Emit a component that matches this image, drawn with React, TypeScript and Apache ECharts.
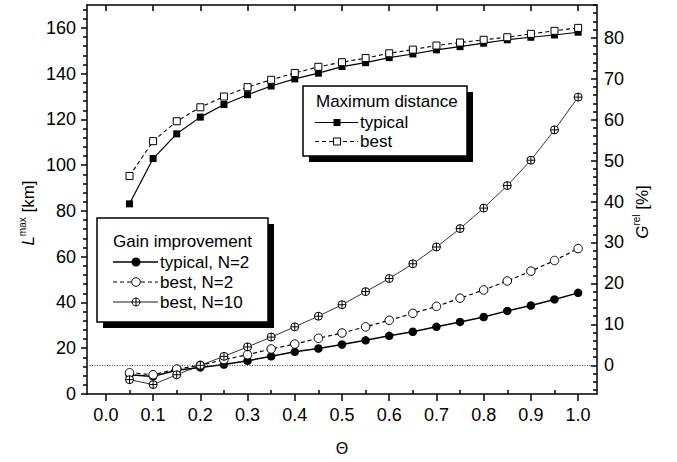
import React, { useEffect, useRef } from 'react';
import * as echarts from 'echarts';

const FONT = "'Liberation Sans', Arial, Helvetica, sans-serif";

// Theta values (x)
const thetas = [0.05, 0.1, 0.15, 0.2, 0.25, 0.3, 0.35, 0.4, 0.45, 0.5, 0.55, 0.6, 0.65, 0.7, 0.75, 0.8, 0.85, 0.9, 0.95, 1.0];

// Maximum distance L^max [km] (left axis)
const maxTypical = [83.1, 102.9, 113.7, 121.0, 126.5, 130.8, 134.6, 137.7, 140.2, 143.1, 144.8, 147.0, 148.6, 150.4, 151.8, 153.3, 154.8, 155.9, 156.9, 158.1];
const maxBest = [95.3, 110.5, 119.2, 125.3, 130.0, 134.1, 137.3, 140.3, 143.0, 145.0, 146.8, 148.9, 150.5, 152.3, 153.6, 154.8, 155.9, 157.4, 158.7, 160.0];

// Gain improvement G^rel [%] (right axis)
const gainTypicalN2 = [-2.3, -2.7, -1.2, -0.5, 0.2, 1.1, 2.2, 3.3, 4.1, 5.1, 6.1, 7.2, 8.2, 9.4, 10.6, 11.8, 13.3, 14.6, 16.1, 17.7];
const gainBestN2 = [-1.8, -2.3, -0.9, 0.0, 1.4, 2.6, 4.0, 5.2, 6.6, 7.9, 9.4, 11.0, 12.7, 14.4, 16.4, 18.4, 20.6, 23.0, 25.6, 28.5];
const gainBestN10 = [-3.5, -4.7, -2.3, 0.0, 2.2, 4.5, 6.9, 9.4, 12.0, 14.8, 18.0, 21.2, 24.8, 28.9, 33.4, 38.4, 43.9, 50.1, 57.5, 65.5];

// Tick labels
const xTicks = [0, 0.1, 0.2, 0.3, 0.4, 0.5, 0.6, 0.7, 0.8, 0.9, 1.0];
const xMinorTicks = [0.05, 0.15, 0.25, 0.35, 0.45, 0.55, 0.65, 0.75, 0.85, 0.95];
const leftTicks = [0, 20, 40, 60, 80, 100, 120, 140, 160];
const rightTicks = [0, 10, 20, 30, 40, 50, 60, 70, 80];

const leftMinor: number[] = [];
for (let v = 4; v <= 168; v += 4) if (v % 20 !== 0) leftMinor.push(v);
const rightMinor: number[] = [];
for (let v = -6; v <= 88; v += 2) if (v % 10 !== 0) rightMinor.push(v);

const CROSS_CIRCLE = 'path://M10,0 A10,10 0 1,1 10,20 A10,10 0 1,1 10,0 Z M10,0 L10,20 M0,10 L20,10';

const BLACK = '#000';
const AX_LINE = { color: BLACK, width: 1.5 };

function pairs(ys: number[]) {
  return thetas.map((t, i) => [t, ys[i]]);
}

function legendBox(x: number, y: number, w: number, h: number) {
  return [
    { type: 'rect', z: 100, shape: { x: x + 6, y: y + 6, width: w, height: h }, style: { fill: BLACK } },
    { type: 'rect', z: 101, shape: { x, y, width: w, height: h }, style: { fill: '#fff', stroke: BLACK, lineWidth: 1.5 } },
  ];
}

function legendText(x: number, y: number, text: string) {
  return {
    type: 'text', z: 102, x, y,
    style: { text, fill: BLACK, fontSize: 17, fontFamily: FONT, align: 'left', verticalAlign: 'middle' },
  };
}

function legendLine(x1: number, x2: number, y: number, dash: any, width: number) {
  return {
    type: 'line', z: 102,
    shape: { x1, y1: y, x2, y2: y },
    style: { stroke: BLACK, lineWidth: width, lineDash: dash },
  };
}

export default function App() {
  const ref = useRef<HTMLDivElement>(null);

  useEffect(() => {
    if (!ref.current) return;
    const chart = echarts.init(ref.current, undefined, { renderer: 'svg' });

    const xMin = -0.04, xMax = 1.04;
    const lMin = 0, lMax = 170;
    const rMin = -7, rMax = 88;

    const labelStyle = { color: BLACK, fontSize: 18, fontFamily: FONT };

    const option: any = {
      animation: false,
      backgroundColor: '#fff',
      grid: { left: 87, right: 80, top: 5, bottom: 68, containLabel: false },
      xAxis: [
        {
          type: 'value', position: 'bottom', min: xMin, max: xMax,
          axisLine: { show: true, onZero: false, lineStyle: AX_LINE },
          axisTick: { show: true, inside: false, length: 7, lineStyle: AX_LINE, customValues: xTicks },
          axisLabel: { ...labelStyle, margin: 12, customValues: xTicks, formatter: (v: number) => v.toFixed(1) },
          splitLine: { show: false },
        },
        {
          type: 'value', position: 'bottom', min: xMin, max: xMax,
          axisLine: { show: false, onZero: false },
          axisTick: { show: true, inside: true, length: 4, lineStyle: AX_LINE, customValues: xMinorTicks },
          axisLabel: { show: false },
          splitLine: { show: false },
        },
        {
          type: 'value', position: 'top', min: xMin, max: xMax,
          axisLine: { show: true, onZero: false, lineStyle: AX_LINE },
          axisTick: { show: true, inside: true, length: 6, lineStyle: AX_LINE, customValues: xTicks },
          axisLabel: { show: false },
          splitLine: { show: false },
        },
      ],
      yAxis: [
        {
          type: 'value', position: 'left', min: lMin, max: lMax,
          axisLine: { show: true, onZero: false, lineStyle: AX_LINE },
          axisTick: { show: true, inside: false, length: 6, lineStyle: AX_LINE, customValues: leftTicks },
          axisLabel: { ...labelStyle, margin: 11, customValues: leftTicks },
          splitLine: { show: false },
        },
        {
          type: 'value', position: 'right', min: rMin, max: rMax,
          axisLine: { show: true, onZero: false, lineStyle: AX_LINE },
          axisTick: { show: true, inside: true, length: 6, lineStyle: AX_LINE, customValues: rightTicks },
          axisLabel: { ...labelStyle, margin: 7, customValues: rightTicks },
          splitLine: { show: false },
        },
        {
          type: 'value', position: 'left', min: lMin, max: lMax,
          axisLine: { show: false, onZero: false },
          axisTick: { show: true, inside: false, length: 4, lineStyle: AX_LINE, customValues: leftMinor },
          axisLabel: { show: false },
          splitLine: { show: false },
        },
        {
          type: 'value', position: 'right', min: rMin, max: rMax,
          axisLine: { show: false, onZero: false },
          axisTick: { show: true, inside: true, length: 4, lineStyle: AX_LINE, customValues: rightMinor },
          axisLabel: { show: false },
          splitLine: { show: false },
        },
      ],
      series: [
        {
          name: 'typical', type: 'line', xAxisIndex: 0, yAxisIndex: 0,
          data: pairs(maxTypical), symbol: 'rect', symbolSize: 7,
          lineStyle: { color: BLACK, width: 1.2 }, itemStyle: { color: BLACK },
          z: 3,
        },
        {
          name: 'best', type: 'line', xAxisIndex: 0, yAxisIndex: 0,
          data: pairs(maxBest), symbol: 'rect', symbolSize: 7,
          lineStyle: { color: BLACK, width: 1.1, type: [4, 3] },
          itemStyle: { color: '#fff', borderColor: BLACK, borderWidth: 1 },
          z: 3,
        },
        {
          name: 'typical, N=2', type: 'line', xAxisIndex: 0, yAxisIndex: 1,
          data: pairs(gainTypicalN2), symbol: 'circle', symbolSize: 8.5,
          lineStyle: { color: BLACK, width: 1.5 }, itemStyle: { color: BLACK },
          z: 3,
          markLine: {
            silent: true, symbol: ['none', 'none'], label: { show: false },
            lineStyle: { color: '#444', width: 1, type: [1, 1.5] },
            data: [{ yAxis: 0 }],
          },
        },
        {
          name: 'best, N=2', type: 'line', xAxisIndex: 0, yAxisIndex: 1,
          data: pairs(gainBestN2), symbol: 'circle', symbolSize: 8.5,
          lineStyle: { color: BLACK, width: 1.2, type: [4, 3] },
          itemStyle: { color: '#fff', borderColor: BLACK, borderWidth: 1 },
          z: 3,
        },
        {
          name: 'best, N=10', type: 'line', xAxisIndex: 0, yAxisIndex: 1,
          data: pairs(gainBestN10), symbol: CROSS_CIRCLE, symbolSize: 8,
          lineStyle: { color: BLACK, width: 0.8 },
          itemStyle: { color: '#fff', borderColor: BLACK, borderWidth: 1 },
          z: 3,
        },
      ],
      graphic: [
        // Maximum distance legend
        ...legendBox(303, 86, 164, 70),
        legendText(316, 101, 'Maximum distance'),
        legendLine(315, 358, 122.5, null, 1.2),
        { type: 'rect', z: 103, shape: { x: 333.5, y: 119, width: 7, height: 7 }, style: { fill: BLACK } },
        legendText(360, 122.5, 'typical'),
        legendLine(315, 358, 141.5, [4, 3], 1.1),
        { type: 'rect', z: 103, shape: { x: 333.5, y: 138, width: 7, height: 7 }, style: { fill: '#fff', stroke: BLACK, lineWidth: 1 } },
        legendText(360, 141.5, 'best'),

        // Gain improvement legend
        ...legendBox(97, 218, 171, 104),
        legendText(113, 241.5, 'Gain improvement'),
        legendLine(113, 158, 262, null, 1.5),
        { type: 'circle', z: 103, shape: { cx: 136, cy: 262, r: 4.5 }, style: { fill: BLACK } },
        legendText(160, 262, 'typical, N=2'),
        legendLine(113, 158, 282, [4, 3], 1.2),
        { type: 'circle', z: 103, shape: { cx: 136, cy: 282, r: 4.3 }, style: { fill: '#fff', stroke: BLACK, lineWidth: 1 } },
        legendText(160, 282, 'best, N=2'),
        legendLine(113, 158, 302, null, 0.9),
        { type: 'circle', z: 103, shape: { cx: 136, cy: 302, r: 4 }, style: { fill: '#fff', stroke: BLACK, lineWidth: 1 } },
        { type: 'line', z: 104, shape: { x1: 136, y1: 298, x2: 136, y2: 306 }, style: { stroke: BLACK, lineWidth: 1 } },
        { type: 'line', z: 104, shape: { x1: 132, y1: 302, x2: 140, y2: 302 }, style: { stroke: BLACK, lineWidth: 1 } },
        legendText(160, 302, 'best, N=10'),

        // Axis titles
        {
          type: 'text', z: 50, x: 27, y: 213, rotation: Math.PI / 2,
          style: {
            text: '{i|L}{s|max} {n|[km]}',
            fill: BLACK, align: 'center', verticalAlign: 'middle', fontFamily: FONT, fontSize: 17,
            rich: {
              i: { fontSize: 17, fontStyle: 'italic', fontFamily: FONT, fill: BLACK, lineHeight: 20, verticalAlign: 'bottom' },
              s: { fontSize: 10, fontFamily: FONT, fill: BLACK, lineHeight: 20, verticalAlign: 'top' },
              n: { fontSize: 17, fontFamily: FONT, fill: BLACK, lineHeight: 20, verticalAlign: 'bottom' },
            },
          },
        },
        {
          type: 'text', z: 50, x: 641, y: 212, rotation: Math.PI / 2,
          style: {
            text: '{i|G}{s|rel} {n|[%]}',
            fill: BLACK, align: 'center', verticalAlign: 'middle', fontFamily: FONT, fontSize: 17,
            rich: {
              i: { fontSize: 17, fontStyle: 'italic', fontFamily: FONT, fill: BLACK, lineHeight: 20, verticalAlign: 'bottom' },
              s: { fontSize: 10, fontFamily: FONT, fill: BLACK, lineHeight: 20, verticalAlign: 'top' },
              n: { fontSize: 17, fontFamily: FONT, fill: BLACK, lineHeight: 20, verticalAlign: 'bottom' },
            },
          },
        },
        {
          type: 'text', z: 50, x: 342, y: 448,
          style: { text: 'Θ', fill: BLACK, fontSize: 16, fontFamily: FONT, align: 'center', verticalAlign: 'middle' },
        },
      ],
    };

    chart.setOption(option);
    return () => chart.dispose();
  }, []);

  return (
    <div
      ref={ref}
      style={{ position: 'fixed', left: 0, top: 0, width: 677, height: 462, background: '#fff' }}
    />
  );
}
